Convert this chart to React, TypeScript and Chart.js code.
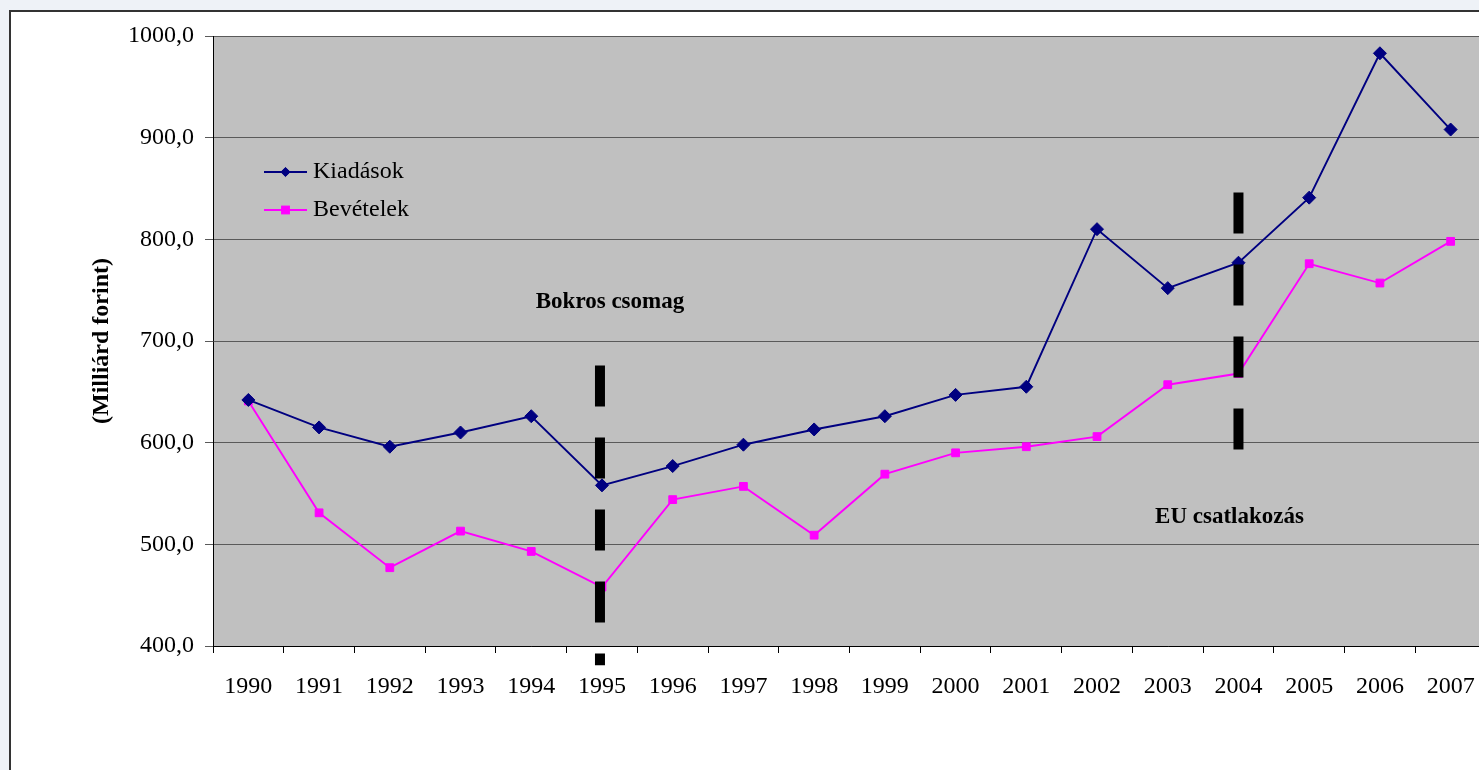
import React, { useEffect, useRef } from "react";
import { Chart, registerables } from "chart.js";

Chart.register(...registerables);

// ---- data ----
const years = ["1990", "1991", "1992", "1993", "1994", "1995", "1996", "1997", "1998", "1999", "2000", "2001", "2002", "2003", "2004", "2005", "2006", "2007"];
const kiadasok = [642, 615, 596, 610, 626, 558, 577, 598, 613, 626, 647, 655, 810, 752, 777, 841, 983, 908];
const bevetelek = [641, 531, 477, 513, 493, 458, 544, 557, 509, 569, 590, 596, 606, 657, 668, 776, 757, 798];
const seriesNames = ["Kiadások", "Bevételek"];
const yMin = 400;
const yMax = 1000;
const yStep = 100;
const yTitle = "(Milliárd forint)";

// event markers (dashed vertical bars) and their captions
const eventYears = ["1995", "2004"];
const eventTop = [676, 846];
const eventBottom = [381, 591];
const eventLabels = ["Bokros csomag", "EU csatlakozás"];
const eventLabelValues = [738, 527];

// ---- style ----
const FONT = '"Liberation Serif", "Times New Roman", serif';
const NAVY = "#000080";
const PINK = "#FF00FF";
const eventLabelDx = [8, -9];
const eventBarDx = [-2, 0];

function drawDiamond(ctx: CanvasRenderingContext2D, x: number, y: number, r: number, color: string) {
  ctx.beginPath();
  ctx.moveTo(x - r, y);
  ctx.lineTo(x, y + r);
  ctx.lineTo(x + r, y);
  ctx.lineTo(x, y - r);
  ctx.closePath();
  ctx.fillStyle = color;
  ctx.fill();
  ctx.strokeStyle = color;
  ctx.lineWidth = 1;
  ctx.stroke();
}

function drawSquare(ctx: CanvasRenderingContext2D, x: number, y: number, h: number, color: string) {
  ctx.fillStyle = color;
  ctx.fillRect(x - h, y - h, 2 * h, 2 * h);
  ctx.strokeStyle = color;
  ctx.lineWidth = 1;
  ctx.strokeRect(x - h, y - h, 2 * h, 2 * h);
}

const bgPlugin = {
  id: "plotBg",
  beforeDraw(chart: any) {
    const { ctx, chartArea } = chart;
    ctx.save();
    ctx.fillStyle = "#C0C0C0";
    ctx.fillRect(chartArea.left, chartArea.top, chartArea.right - chartArea.left, chartArea.bottom - chartArea.top);
    ctx.restore();
  },
};

const eventsPlugin = {
  id: "events",
  afterDatasetsDraw(chart: any) {
    const { ctx, scales } = chart;
    const xs = scales.x;
    const ys = scales.y;
    ctx.save();
    eventYears.forEach((yr, i) => {
      const x = xs.getPixelForValue(years.indexOf(yr)) + eventBarDx[i];
      const y0 = ys.getPixelForValue(eventTop[i]);
      const y1 = ys.getPixelForValue(eventBottom[i]);
      ctx.beginPath();
      ctx.setLineDash([41, 31]);
      ctx.lineCap = "butt";
      ctx.lineWidth = 10;
      ctx.strokeStyle = "#000";
      ctx.moveTo(x, y0);
      ctx.lineTo(x, y1);
      ctx.stroke();
      ctx.setLineDash([]);
      ctx.font = `bold 23px ${FONT}`;
      ctx.fillStyle = "#000";
      ctx.textAlign = "center";
      ctx.textBaseline = "middle";
      ctx.fillText(eventLabels[i], x - eventBarDx[i] + eventLabelDx[i], ys.getPixelForValue(eventLabelValues[i]));
    });
    // legend
    const items = [
      { name: seriesNames[0], color: NAVY, kind: "diamond", y: 172 },
      { name: seriesNames[1], color: PINK, kind: "square", y: 210 },
    ];
    items.forEach((it) => {
      ctx.beginPath();
      ctx.strokeStyle = it.color;
      ctx.lineWidth = 1.8;
      ctx.moveTo(264, it.y);
      ctx.lineTo(307, it.y);
      ctx.stroke();
      if (it.kind === "diamond") drawDiamond(ctx, 285.5, it.y, 4.6, it.color);
      else drawSquare(ctx, 285.5, it.y, 3.9, it.color);
      ctx.font = `24px ${FONT}`;
      ctx.fillStyle = "#000";
      ctx.textAlign = "left";
      ctx.textBaseline = "middle";
      ctx.fillText(it.name, 313, it.y);
    });
    ctx.restore();
  },
};

export default function App() {
  const ref = useRef<HTMLCanvasElement | null>(null);

  useEffect(() => {
    if (!ref.current) return;
    Chart.defaults.font.family = FONT;
    const chart = new Chart(ref.current, {
      type: "line",
      data: {
        labels: years,
        datasets: [
          {
            label: seriesNames[0],
            data: kiadasok,
            borderColor: NAVY,
            backgroundColor: NAVY,
            borderWidth: 1.9,
            pointStyle: "rectRot",
            pointRadius: 6.5,
            pointBorderWidth: 1,
            pointBackgroundColor: NAVY,
            pointBorderColor: NAVY,
            tension: 0,
            fill: false,
          },
          {
            label: seriesNames[1],
            data: bevetelek,
            borderColor: PINK,
            backgroundColor: PINK,
            borderWidth: 1.9,
            pointStyle: "rect",
            pointRadius: 5.5,
            pointBorderWidth: 1,
            pointBackgroundColor: PINK,
            pointBorderColor: PINK,
            tension: 0,
            fill: false,
          },
        ],
      },
      options: {
        responsive: false,
        animation: false,
        devicePixelRatio: 1,
        layout: { padding: { left: 0, top: 36, right: 14, bottom: 0 } },
        plugins: {
          legend: { display: false },
          tooltip: { enabled: false },
        },
        scales: {
          x: {
            type: "category",
            offset: true,
            grid: {
              offset: true,
              drawOnChartArea: false,
              tickLength: 7,
              color: "#000",
              tickColor: "#000",
            },
            border: { color: "#000", width: 1 },
            ticks: {
              color: "#000",
              font: { family: FONT, size: 24 },
              padding: 19,
              maxRotation: 0,
              autoSkip: false,
            },
            afterFit(s: any) {
              s.height = 124;
            },
          },
          y: {
            min: yMin,
            max: yMax,
            ticks: {
              stepSize: yStep,
              color: "#000",
              font: { family: FONT, size: 24 },
              padding: 11,
              callback: (v: any) => Number(v).toFixed(1).replace(".", ","),
            },
            grid: {
              color: "#5a5a5a",
              tickColor: "#5a5a5a",
              tickLength: 8,
              lineWidth: 1,
            },
            border: { color: "#000", width: 1 },
            title: {
              display: true,
              text: yTitle,
              color: "#000",
              font: { family: FONT, size: 24, weight: "bold" },
              padding: { top: 87, bottom: 0 },
            },
            afterFit(s: any) {
              s.width = 213;
            },
          },
        },
      } as any,
      plugins: [bgPlugin, eventsPlugin],
    });
    return () => chart.destroy();
  }, []);

  return (
    <div style={{ position: "fixed", left: 0, top: 0, width: "100vw", height: "100vh", background: "#EEF2F7", overflow: "hidden" }}>
      <div
        style={{
          position: "absolute",
          left: 9,
          top: 10,
          width: 2000,
          height: 2000,
          background: "#fff",
          borderLeft: "2px solid #333",
          borderTop: "2px solid #333",
        }}
      />
      <canvas
        ref={ref}
        width={1500}
        height={770}
        style={{ position: "absolute", left: 0, top: 0, width: 1500, height: 770, display: "block" }}
      />
    </div>
  );
}
